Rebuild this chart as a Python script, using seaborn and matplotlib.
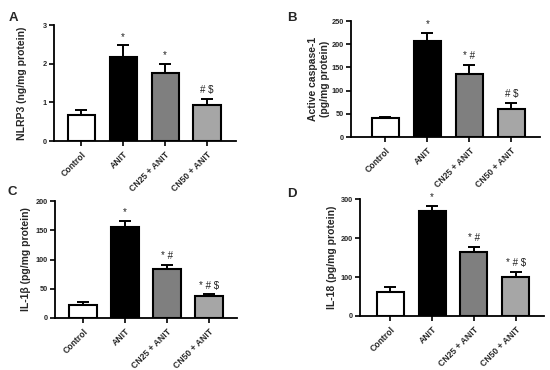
import matplotlib
matplotlib.use("Agg")
import matplotlib.pyplot as plt
import seaborn as sns
import pandas as pd

sns.set_theme(style="ticks")
plt.rcParams['font.family'] = ['Liberation Sans', 'DejaVu Sans']

groups = ["Control", "ANIT", "CN25 + ANIT", "CN50 + ANIT"]
colors = ["#ffffff", "#000000", "#7f7f7f", "#a6a6a6"]

nlrp3_mean = [0.66, 2.18, 1.77, 0.93]
nlrp3_err = [0.14, 0.30, 0.22, 0.16]
nlrp3_sig = ["", "*", "*", "# $"]

casp_mean = [41, 207, 136, 60]
casp_err = [3, 18, 20, 14]
casp_sig = ["", "*", "* #", "# $"]

il1b_mean = [23, 155, 84, 37]
il1b_err = [5, 11, 7, 4]
il1b_sig = ["", "*", "* #", "* # $"]

il18_mean = [62, 268, 163, 99]
il18_err = [13, 15, 14, 14]
il18_sig = ["", "*", "* #", "* # $"]

W, H = 550, 370

panels = [
    dict(letter="A", mean=nlrp3_mean, err=nlrp3_err, sig=nlrp3_sig,
         ylabel="NLRP3 (ng/mg protein)", ymax=3, yticks=[0, 1, 2, 3],
         px=(54, 25, 236, 141), xlim=(-0.65, 3.69), labdist=27,
         letter_xy=(9, 18)),
    dict(letter="B", mean=casp_mean, err=casp_err, sig=casp_sig,
         ylabel="Active caspase-1\n(pg/mg protein)", ymax=250, yticks=[0, 50, 100, 150, 200, 250],
         px=(351, 21, 540, 137), xlim=(-0.82, 3.68), labdist=21,
         letter_xy=(287, 18)),
    dict(letter="C", mean=il1b_mean, err=il1b_err, sig=il1b_sig,
         ylabel="IL-1β (pg/mg protein)", ymax=200, yticks=[0, 50, 100, 150, 200],
         px=(55, 201, 237, 318), xlim=(-0.67, 3.67), labdist=24,
         letter_xy=(7, 192)),
    dict(letter="D", mean=il18_mean, err=il18_err, sig=il18_sig,
         ylabel="IL-18 (pg/mg protein)", ymax=300, yticks=[0, 100, 200, 300],
         px=(360, 199, 544, 316), xlim=(-0.73, 3.68), labdist=23,
         letter_xy=(287, 194)),
]

fig = plt.figure(figsize=(5.5, 3.7), dpi=100)

for p in panels:
    x0, y0, x1, y1 = p["px"]
    ax = fig.add_axes([x0 / W, 1 - y1 / H, (x1 - x0) / W, (y1 - y0) / H])
    df = pd.DataFrame({"group": groups, "value": p["mean"]})
    sns.barplot(data=df, x="group", y="value", hue="group", palette=colors,
                edgecolor="black", linewidth=1.5, width=0.65, errorbar=None,
                legend=False, ax=ax, order=groups)
    xs = list(range(len(groups)))
    ax.errorbar(xs, p["mean"], yerr=[[0] * 4, p["err"]], fmt="none",
                ecolor="black", elinewidth=1.4, capsize=4, capthick=1.4, zorder=1)
    for x, m, e, s in zip(xs, p["mean"], p["err"], p["sig"]):
        if s:
            ax.text(x, m + e + p["ymax"] * 0.03, s, ha="center", va="bottom",
                    fontsize=7, color="#222222")
    ax.set_ylim(0, p["ymax"])
    ax.set_xlim(*p["xlim"])
    ax.set_yticks(p["yticks"])
    ax.set_xlabel("")
    ax.set_ylabel(p["ylabel"], fontsize=7.5, fontweight="bold")
    ax.yaxis.set_label_coords(-p["labdist"] / (x1 - x0), 0.5)
    ax.set_xticks(xs)
    ax.set_xticklabels(groups, rotation=45, ha="right", rotation_mode="anchor",
                       fontsize=6.2, fontweight="bold")
    for lab in ax.get_yticklabels():
        lab.set_fontweight("bold")
        lab.set_fontsize(5.3)
    ax.tick_params(axis="y", length=3.5, width=1.2, pad=1.5, color="black")
    ax.tick_params(axis="x", length=3.5, width=1.2, pad=3, color="black")
    for sp in ["top", "right"]:
        ax.spines[sp].set_visible(False)
    for sp in ["left", "bottom"]:
        ax.spines[sp].set_linewidth(1.3)
        ax.spines[sp].set_color("black")
    fig.text(p["letter_xy"][0] / W, 1 - p["letter_xy"][1] / H, p["letter"],
             fontsize=9.5, fontweight="bold", ha="left", va="center")

fig.savefig("out.png", dpi=100)
